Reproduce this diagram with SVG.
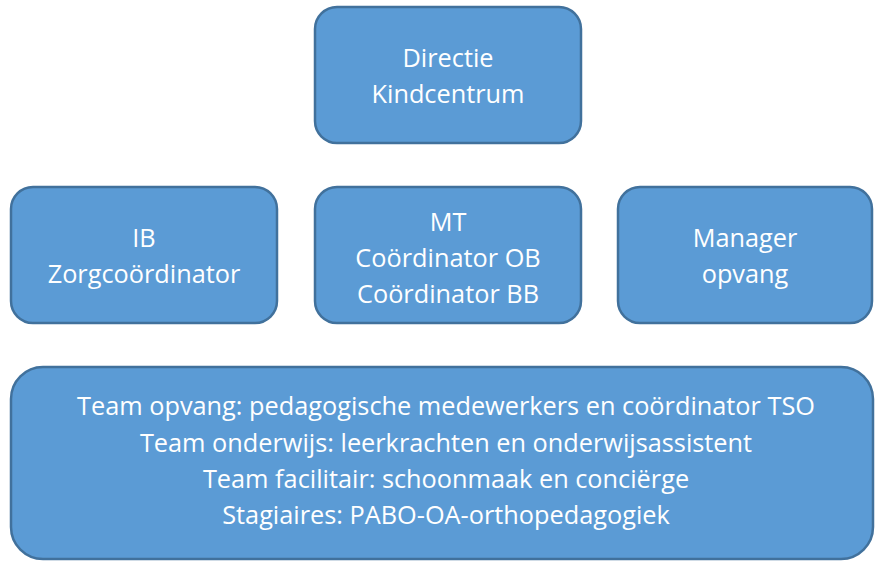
<svg xmlns="http://www.w3.org/2000/svg" width="876" height="562" viewBox="0 0 876 562">
<style>
.box{fill:#5B9BD5;stroke:#41719C;stroke-width:2.5}
.t{font-family:"Open Sans","Noto Sans","Liberation Sans",sans-serif;font-size:25.3px;fill:#FFFFFF;text-anchor:middle}
</style>
<rect width="876" height="562" fill="#FFFFFF"/>
<g id="connectors"/>
<g id="directie">
<rect class="box" x="315" y="7" width="266" height="136" rx="22"/>
<text class="t" x="448" y="67">Directie</text>
<text class="t" x="448" y="103">Kindcentrum</text>
</g>
<g id="ib">
<rect class="box" x="11" y="187" width="266" height="136" rx="22"/>
<text class="t" x="144" y="247">IB</text>
<text class="t" x="144" y="283">Zorgcoördinator</text>
</g>
<g id="mt">
<rect class="box" x="315" y="187" width="266" height="136" rx="22"/>
<text class="t" x="448" y="231">MT</text>
<text class="t" x="448" y="267">Coördinator OB</text>
<text class="t" x="448" y="303">Coördinator BB</text>
</g>
<g id="manager">
<rect class="box" x="618" y="187" width="254" height="136" rx="22"/>
<text class="t" x="745" y="247">Manager</text>
<text class="t" x="745" y="283">opvang</text>
</g>
<g id="teams">
<rect class="box" x="11" y="367" width="862" height="192" rx="32"/>
<text class="t" x="446" y="415">Team opvang: pedagogische medewerkers en coördinator TSO</text>
<text class="t" x="446" y="452">Team onderwijs: leerkrachten en onderwijsassistent</text>
<text class="t" x="446" y="488">Team facilitair: schoonmaak en conciërge</text>
<text class="t" x="446" y="524">Stagiaires: PABO-OA-orthopedagogiek</text>
</g>
</svg>
